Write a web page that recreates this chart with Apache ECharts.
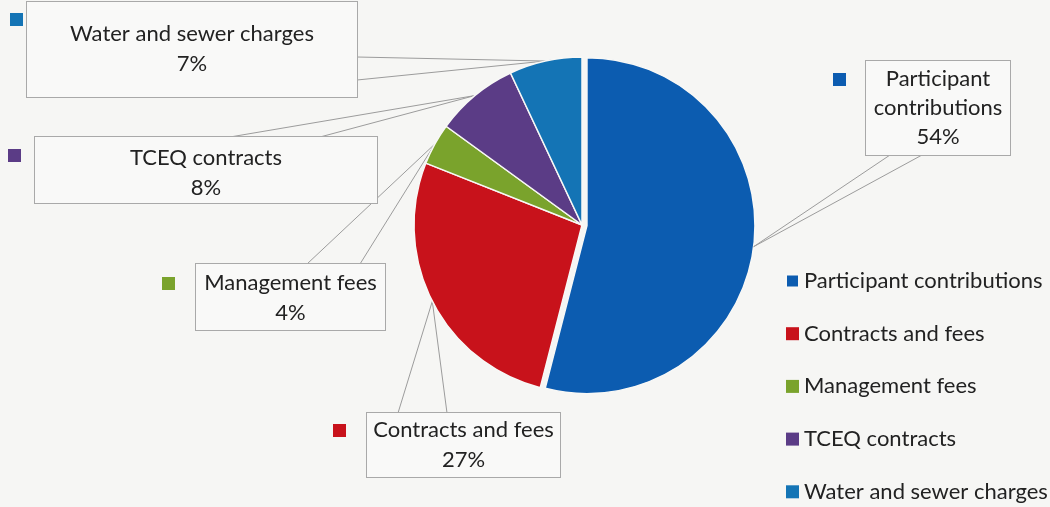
<!DOCTYPE html>
<html>
<head>
<meta charset="utf-8">
<script src="https://cdn.jsdelivr.net/npm/echarts@6/dist/echarts.min.js"></script>
<style>
html,body{margin:0;padding:0;background:#f6f6f4;}
#chart{width:1050px;height:507px;}
</style>
</head>
<body>
<div id="chart"></div>
<script>
// ---- data ----
const categories = ['Participant contributions', 'Contracts and fees', 'Management fees', 'TCEQ contracts', 'Water and sewer charges'];
const values = [54, 27, 4, 8, 7];
const labelTexts = ['Participant\ncontributions', 'Contracts and fees', 'Management fees', 'TCEQ contracts', 'Water and sewer charges'];

// ---- styles / layout ----
const colors = ['#0c5cb0', '#c8121b', '#7aa32c', '#5b3c86', '#1474b5'];
const explodedIndex = 0;
// callout boxes: [left, top, width, height, paddingTop]
const boxes = [
  [866, 61, 144, 94, 3],
  [367, 413, 193, 64, 2],
  [196, 264, 189, 66, 4],
  [35, 137, 342, 66, 6],
  [27, 2, 330, 95, 17]
];
// wedge base points on box edge
const wedgeBase = [
  [[890, 155], [922, 155]],
  [[398, 413], [447, 413]],
  [[307, 264], [360, 264]],
  [[230, 137], [320, 137]],
  [[357, 57], [357, 80]]
];
// small key squares beside boxes
const keySquares = [[833, 73], [333, 424], [162, 277], [8, 149], [10, 13]];

const FONT = 'Lato';
const FS = 22;
const CX = 582, CY = 225, R = 168, OFFSET = 5;

const total = values.reduce((a, c) => a + c, 0);
function midAngle(i) {
  let cum = 0;
  for (let k = 0; k < i; k++) cum += values[k];
  return (cum + values[i] / 2) / total * Math.PI * 2;
}
const exMid = midAngle(explodedIndex);
const exCenter = [CX + OFFSET * Math.sin(exMid), CY - OFFSET * Math.cos(exMid)];

const chart = echarts.init(document.getElementById('chart'), null, {renderer: 'canvas'});

const TRANSPARENT = 'rgba(0,0,0,0)';

const mainData = categories.map((name, i) => {
  const b = boxes[i];
  const nLines = labelTexts[i].split('\n').length + 1;
  const lh = i === 0 ? 29 : 30;
  const ex = i === explodedIndex;
  return {
    name: name,
    value: values[i],
    itemStyle: ex ? {color: TRANSPARENT, borderWidth: 0} : {color: colors[i]},
    label: {
      width: b[2],
      lineHeight: lh,
      padding: [b[4], 0, b[3] - b[4] - nLines * lh, 0]
    }
  };
});

// second ring: draws the exploded slice and the small key squares
const keyData = categories.map((name, i) => ({
  name: name,
  value: values[i],
  itemStyle: i === explodedIndex ? {color: colors[i], borderColor: '#f8f8f6', borderWidth: 1.5} : {color: TRANSPARENT, borderWidth: 0},
  label: {backgroundColor: colors[i]}
}));

chart.setOption({
  backgroundColor: '#f6f6f4',
  animation: false,
  legend: {
    orient: 'vertical',
    left: 785,
    top: 269,
    padding: 0,
    itemWidth: 13,
    itemHeight: 13,
    itemGap: 28.7,
    icon: 'rect',
    selectedMode: false,
    data: categories.map((n, i) => ({name: n, itemStyle: {color: colors[i]}})),
    textStyle: {fontFamily: FONT, fontSize: FS, color: '#222', lineHeight: 24}
  },
  series: [
    {
      type: 'pie',
      name: 'keys',
      center: exCenter,
      radius: R,
      startAngle: 90,
      clockwise: true,
      silent: true,
      avoidLabelOverlap: false,
      label: {
        show: true,
        position: 'outside',
        formatter: '{s|}',
        rich: {s: {width: 13, height: 13}},
        padding: 0
      },
      labelLine: {show: false},
      labelLayout: function (params) {
        const k = keySquares[params.dataIndex];
        return {x: k[0], y: k[1], align: 'left', verticalAlign: 'top'};
      },
      emphasis: {disabled: true},
      data: keyData,
      z: 1
    },
    {
      type: 'pie',
      name: 'main',
      center: [CX, CY],
      radius: R,
      startAngle: 90,
      clockwise: true,
      avoidLabelOverlap: false,
      itemStyle: {borderColor: '#f8f8f6', borderWidth: 1.5},
      label: {
        show: true,
        position: 'outside',
        formatter: p => labelTexts[p.dataIndex] + '\n' + p.value + '%',
        fontFamily: FONT,
        fontSize: FS,
        color: '#222',
        align: 'center',
        backgroundColor: '#f9f9f8',
        borderColor: '#a9a9a9',
        borderWidth: 1
      },
      labelLine: {show: true, lineStyle: {color: '#9c9c9c', width: 1}},
      labelLayout: function (params) {
        const i = params.dataIndex;
        const b = boxes[i];
        const mid = midAngle(i);
        const c = i === explodedIndex ? exCenter : [CX, CY];
        const tip = [c[0] + R * Math.sin(mid), c[1] - R * Math.cos(mid)];
        return {
          x: b[0] + b[2] / 2,
          y: b[1],
          align: 'center',
          verticalAlign: 'top',
          labelLinePoints: [wedgeBase[i][0], tip, wedgeBase[i][1]]
        };
      },
      emphasis: {disabled: true},
      data: mainData,
      z: 2
    }
  ]
});
</script>
</body>
</html>
